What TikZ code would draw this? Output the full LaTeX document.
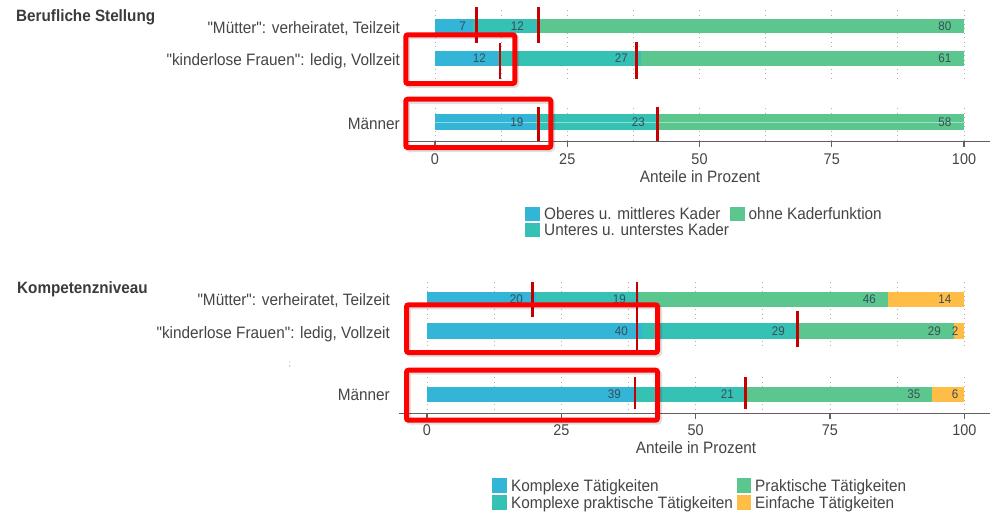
\documentclass[tikz,border=0pt]{standalone}
\usepackage{fontspec}
\setmainfont[FakeStretch=0.93]{Liberation Sans}
\newfontfamily\qfont[FakeStretch=0.93]{Liberation Sans}
\definecolor{cblue}{HTML}{33B5D8}
\definecolor{cteal}{HTML}{35C2B5}
\definecolor{cgreen}{HTML}{5BC68E}
\definecolor{corange}{HTML}{FFBD47}
\definecolor{cmark}{HTML}{C40000}
\definecolor{cbox}{HTML}{FF0000}
\definecolor{ctext}{HTML}{454545}
\definecolor{cval}{HTML}{3B4D57}
\definecolor{caxis}{HTML}{606060}
\definecolor{cgrid}{HTML}{B0B0B0}
\newcommand{\sq}{{\qfont"}}
\begin{document}
\begin{tikzpicture}[x=1pt,y=-1pt,
  rowlbl/.style={anchor=base east,inner sep=0,text=ctext,font=\fontsize{16.5}{19}\selectfont},
  ttl/.style={anchor=base west,inner sep=0,text=ctext!85!black,font=\fontsize{16.4}{19}\selectfont\bfseries},
  leg/.style={anchor=base west,inner sep=0,text=ctext,font=\fontsize{16.5}{19}\selectfont},
  ticklbl/.style={anchor=base,inner sep=0,text=ctext,font=\fontsize{15.5}{18}\selectfont},
  axttl/.style={anchor=base,inner sep=0,text=ctext,font=\fontsize{16.5}{19}\selectfont},
  val/.style={anchor=east,inner sep=0,text height=8.8pt,text depth=0pt,text=cval,font=\fontsize{12.5}{14}\selectfont},
  gridln/.style={cgrid,line width=0.9pt,dash pattern=on 1pt off 3.5pt},
  axisline/.style={caxis,line width=1.6pt},
  tickln/.style={caxis,line width=1.3pt},
  marker/.style={cmark,line width=2.8pt},
  hilite/.style={cbox,line width=5pt,rounded corners=2pt},
  hshadow/.style={black,opacity=0.12,line width=5pt,rounded corners=2pt},
]
\useasboundingbox (0,0) rectangle (995,512);
\fill[white] (0,0) rectangle (995,512);

% ================= TOP CHART =================
\def\tA{435}\def\sA{5.29}
\node[ttl] (title1) at (16,21.3) {Berufliche Stellung};

\foreach \p in {0,12.5,...,100} {
  \draw[gridln] ({\tA+\sA*\p},10) -- ({\tA+\sA*\p},79);
  \draw[gridln] ({\tA+\sA*\p},108) -- ({\tA+\sA*\p},141);
}
\foreach \a/\b/\c/\ya/\yb in {
  0/7.07/cblue/19.3/33.3, 7.07/19.19/cteal/19.3/33.3, 19.19/100/cgreen/19.3/33.3,
  0/12/cblue/50.7/66, 12/39/cteal/50.7/66, 39/100/cgreen/50.7/66,
  0/19/cblue/114/130, 19/42/cteal/114/130, 42/100/cgreen/114/130}
  \fill[\c] ({\tA+\sA*\a},\ya) rectangle ({\tA+\sA*\b},\yb);
\draw[white,opacity=0.45,line width=0.8pt] (\tA,122) -- ({\tA+\sA*100},122);

\node[val] (a11) at (466,26.3) {7};
\node[val] (a12) at (524,26.3) {12};
\node[val] (a13) at (951.5,26.3) {80};
\node[val] (a21) at (486,58.4) {12};
\node[val] (a22) at (628,58.4) {27};
\node[val] (a23) at (951.5,58.4) {61};
\node[val] (a31) at (523.5,122) {19};
\node[val] (a32) at (645,122) {23};
\node[val] (a33) at (951.5,122) {58};

\draw[marker] ({\tA+\sA*7.8},7) -- ({\tA+\sA*7.8},43);
\draw[marker] ({\tA+\sA*19.5},7) -- ({\tA+\sA*19.5},43);
\draw[marker] ({\tA+\sA*12.3},43) -- ({\tA+\sA*12.3},79);
\draw[marker] ({\tA+\sA*38.1},42) -- ({\tA+\sA*38.1},79);
\draw[marker] ({\tA+\sA*19.5},107) -- ({\tA+\sA*19.5},142);
\draw[marker] ({\tA+\sA*42.1},107) -- ({\tA+\sA*42.1},142);

\draw[axisline] (408,141.3) -- (990,141.3);
\foreach \p in {0,25,50,75,100} {
  \draw[tickln] ({\tA+\sA*\p},140.5) -- ({\tA+\sA*\p},147);
  \node[ticklbl] (ta\p) at ({\tA+\sA*\p},164) {\p};
}
\node[axttl] (axA) at (700,182.5) {Anteile in Prozent};

\node[rowlbl] (ra1) at (400,33) {\sq Mütter\sq: verheiratet, Teilzeit};
\node[rowlbl] (ra2) at (400,65) {\sq kinderlose Frauen\sq: ledig, Vollzeit};
\node[rowlbl] (ra3) at (400,129) {Männer};

\draw[hshadow] (407.5,36.5) rectangle (516.5,85.5);
\draw[hshadow] (407.5,101.5) rectangle (552.5,149.5);
\draw[hilite] (405.8,34.8) rectangle (514.8,83.5);
\draw[hilite] (405.8,99.2) rectangle (550.8,147.5);

% legend top
\fill[cblue]  (525,206.5) rectangle (540,220.5);
\fill[cteal]  (525,222.5) rectangle (540,236.5);
\fill[cgreen] (730,206.5) rectangle (745,220.5);
\node[leg] (la1) at (544,219.5) {Oberes u. mittleres Kader};
\node[leg] (la2) at (544,235.5) {Unteres u. unterstes Kader};
\node[leg] (la3) at (748.5,219.5) {ohne Kaderfunktion};

% ================= BOTTOM CHART =================
\def\tB{427}\def\sB{5.373}
\node[ttl] (title2) at (17,293.5) {Kompetenzniveau};

\foreach \p in {0,12.5,...,100} {
  \draw[gridln] ({\tB+\sB*\p},282) -- ({\tB+\sB*\p},347);
  \draw[gridln] ({\tB+\sB*\p},377) -- ({\tB+\sB*\p},413);
}
\foreach \a/\b/\c/\ya/\yb in {
  0/20.2/cblue/291.7/306.7, 20.2/39.39/cteal/291.7/306.7, 39.39/85.86/cgreen/291.7/306.7, 85.86/100/corange/291.7/306.7,
  0/40/cblue/323.3/339, 40/69/cteal/323.3/339, 69/98/cgreen/323.3/339, 98/100/corange/323.3/339,
  0/38.61/cblue/386.7/402.3, 38.61/59.41/cteal/386.7/402.3, 59.41/94.06/cgreen/386.7/402.3, 94.06/100/corange/386.7/402.3}
  \fill[\c] ({\tB+\sB*\a},\ya) rectangle ({\tB+\sB*\b},\yb);

\node[val] (b11) at (523,299.2) {20};
\node[val] (b12) at (626,299.2) {19};
\node[val] (b13) at (876,299.2) {46};
\node[val] (b14) at (951.5,299.2) {14};
\node[val] (b21) at (628,331.2) {40};
\node[val] (b22) at (785,331.2) {29};
\node[val] (b23) at (941,331.2) {29};
\node[val] (b24) at (958.5,331.2) {2};
\node[val] (b31) at (621,394.5) {39};
\node[val] (b32) at (734,394.5) {21};
\node[val] (b33) at (920.5,394.5) {35};
\node[val] (b34) at (958.5,394.5) {6};

\draw[marker] ({\tB+\sB*19.6},282) -- ({\tB+\sB*19.6},317);
\draw[marker] ({\tB+\sB*39.1},282) -- ({\tB+\sB*39.1},317);
\draw[marker] ({\tB+\sB*39.1},316) -- ({\tB+\sB*39.1},352);
\draw[marker] ({\tB+\sB*69},311) -- ({\tB+\sB*69},347);
\draw[marker] ({\tB+\sB*38.7},377) -- ({\tB+\sB*38.7},409);
\draw[marker] ({\tB+\sB*59.3},377) -- ({\tB+\sB*59.3},409);

\draw[axisline] (399,413.5) -- (990,413.5);
\foreach \p in {0,25,50,75,100} {
  \draw[tickln] ({\tB+\sB*\p},412.7) -- ({\tB+\sB*\p},419);
  \node[ticklbl] (tb\p) at ({\tB+\sB*\p},435.5) {\p};
}
\node[axttl] (axB) at (696,453.5) {Anteile in Prozent};

\node[rowlbl] (rb1) at (390,305) {\sq Mütter\sq: verheiratet, Teilzeit};
\node[rowlbl] (rb2) at (390,338) {\sq kinderlose Frauen\sq: ledig, Vollzeit};
\node[rowlbl] (rb3) at (390,400.5) {Männer};
\node[inner sep=0,text=ctext!70,font=\fontsize{8}{9}\selectfont] (stray) at (290,365) {;};

\draw[hshadow] (408.5,306.8) rectangle (659.5,354.5);
\draw[hshadow] (408.5,372.2) rectangle (659.5,422.2);
\draw[hilite] (406.5,304.8) rectangle (657.5,352.5);
\draw[hilite] (406.5,370.2) rectangle (657.5,420.2);

% legend bottom
\fill[cblue]   (492,477.5) rectangle (507,492.5);
\fill[cteal]   (492,495) rectangle (507,510);
\fill[cgreen]  (737,477.5) rectangle (751,492.5);
\fill[corange] (737,495) rectangle (751,510);
\node[leg] (lb1) at (511,491.5) {Komplexe Tätigkeiten};
\node[leg] (lb2) at (511,508.5) {Komplexe praktische Tätigkeiten};
\node[leg] (lb3) at (755,491.5) {Praktische Tätigkeiten};
\node[leg] (lb4) at (755,508.5) {Einfache Tätigkeiten};
\end{tikzpicture}
\end{document}
